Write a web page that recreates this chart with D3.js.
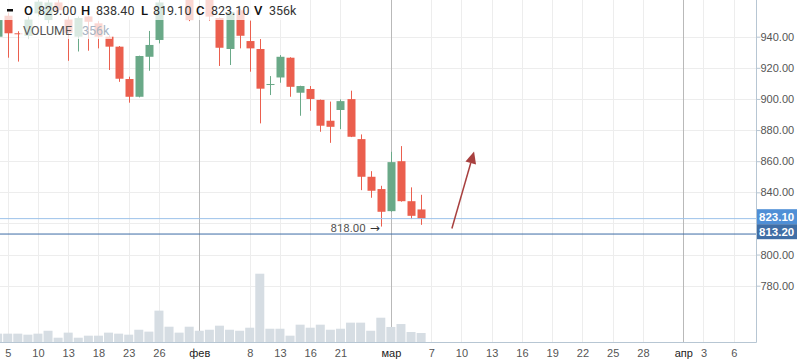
<!DOCTYPE html>
<html>
<head>
<meta charset="utf-8">
<script src="https://cdnjs.cloudflare.com/ajax/libs/d3/7.8.5/d3.min.js"></script>
<style>
  body { margin: 0; background: #fff; }
  svg { display: block; }
</style>
</head>
<body>
<svg id="chart"></svg>
<script>
const width = 798;
const height = 363;
const paneRight = 756;
const paneBottom = 342;

// bar slots (trading days), slot 0 = "5"
const slots = d3.range(-1, 42);
const opens  = [940, 953.5, 942.2, 940.5, 955, 950.7, 962, 951, 940, 953, 948.6, 940, 933.6, 912.8, 901.4, 927.1, 937.9, 966, 972, 968, 966, 965, 952, 932.1, 957, 937.2, 932.1, 909.2, 913.8, 926.5, 904, 906.4, 899.4, 886, 892.9, 899.9, 874.2, 850, 842.1, 827.9, 860, 834.3, 829];
const highs  = [955, 955.5, 943.5, 953, 964, 964, 964, 953, 953, 954, 950, 941, 934, 914.3, 927.8, 943.7, 966, 975, 978, 970, 972, 967, 952.5, 956.5, 958, 950.3, 938.5, 914.7, 928.2, 926.8, 908.5, 908.3, 899.6, 898.3, 899.7, 905.3, 877.2, 853.6, 844.2, 866, 869.7, 843.2, 838.4];
const lows   = [938, 926.5, 924, 938.5, 953, 948.6, 955.5, 924.5, 930.5, 931, 932.5, 918.6, 911, 897.6, 901, 918.1, 935.7, 964, 965, 950, 964, 950.3, 921.2, 921.8, 932.5, 917.5, 884.3, 902.5, 910.4, 901.4, 889.2, 892.4, 878.9, 871.8, 880.6, 875.5, 841.4, 836.5, 818, 827.5, 834, 822.8, 819.1];
const closes = [950.7, 942.2, 941.8, 951, 962.5, 962, 957, 942.5, 952, 949.6, 940, 933.6, 913, 901.4, 927.6, 934.7, 962, 972, 968, 950.7, 969, 952.9, 932.9, 955.9, 940.6, 932.5, 906.6, 909.6, 927.1, 907.8, 908.3, 900, 882.8, 882.1, 898.6, 875.7, 850, 841, 827.5, 859.4, 834.3, 824.9, 823.1];
const volumes = [330, 330, 330, 290, 330, 445, 170, 370, 170, 250, 250, 370, 330, 290, 485, 410, 1240, 605, 370, 605, 445, 485, 645, 485, 445, 565, 2700, 525, 525, 250, 685, 565, 685, 485, 525, 765, 765, 445, 960, 595, 710, 395, 356];

// time axis labels (past slots are bars, future slots are calendar days)
const tickSlots  = [0, 3, 6, 9, 12, 15, 19, 24, 27, 30, 33, 38, 42, 45, 48, 51, 54, 57, 60, 63, 67, 69, 72];
const tickLabels = ["5", "10", "13", "18", "23", "26", "фев", "8", "13", "16", "21", "мар", "7", "10", "13", "16", "19", "22", "25", "28", "апр", "3", "6"];
const monthLabels = ["фев", "мар", "апр"];

const priceTicks = [780, 800, 820, 840, 860, 880, 900, 920, 940];
const hiddenPriceTicks = [820];

const lastPrice = 823.10;
const otherPrice = 813.20;
const lowMark = { slot: 37, price: 818.00 };
const arrowLine = [{ slot: 44.05, price: 816.8 }, { slot: 46.25, price: 866.3 }];

const legendValues = { O: "829.00", H: "838.40", L: "819.10", C: "823.10", V: "356k" };

const upColor = '#6aa988';
const downColor = '#eb5f4e';

const svg = d3.select('#chart').attr('width', width).attr('height', height)
  .style('font-family', 'Roboto, "Liberation Sans", Arial, sans-serif');

const x = d3.scaleLinear().domain([0, 67]).range([7.7, 683.3]);
const y = d3.scaleLinear().domain([780, 940]).range([285.7, 36.7]);
const yVol = d3.scaleLinear().domain([0, d3.max(volumes)]).range([paneBottom, paneBottom - 68.3]);

svg.append('defs').append('clipPath').attr('id', 'pane')
  .append('rect').attr('x', 0).attr('y', 0).attr('width', paneRight).attr('height', paneBottom);

const pane = svg.append('g').attr('clip-path', 'url(#pane)');

// grid
pane.selectAll('.hgrid').data(priceTicks).enter().append('line')
  .attr('x1', 0).attr('x2', paneRight)
  .attr('y1', d => Math.round(y(d)) + 0.5).attr('y2', d => Math.round(y(d)) + 0.5)
  .attr('stroke', '#ededed');

pane.selectAll('.vgrid').data(tickSlots).enter().append('line')
  .attr('x1', d => Math.round(x(d)) + 0.5).attr('x2', d => Math.round(x(d)) + 0.5)
  .attr('y1', 0).attr('y2', paneBottom)
  .attr('stroke', (d, i) => monthLabels.includes(tickLabels[i]) ? '#b9b9b9' : '#ededed');

// volume
pane.selectAll('.vol').data(slots).enter().append('rect')
  .attr('x', d => x(d) - 4.5)
  .attr('width', 9)
  .attr('y', (d, i) => yVol(volumes[i]))
  .attr('height', (d, i) => paneBottom - yVol(volumes[i]))
  .attr('fill', '#d6dde3');

// candles
const candle = pane.selectAll('.candle').data(slots).enter().append('g');
candle.append('line')
  .attr('x1', d => Math.round(x(d)) + 0.5).attr('x2', d => Math.round(x(d)) + 0.5)
  .attr('y1', (d, i) => y(highs[i])).attr('y2', (d, i) => y(lows[i]))
  .attr('stroke', (d, i) => closes[i] >= opens[i] ? upColor : downColor);
candle.append('rect')
  .attr('x', d => Math.round(x(d)) - 3.5)
  .attr('width', 8)
  .attr('y', (d, i) => y(Math.max(opens[i], closes[i])))
  .attr('height', (d, i) => Math.max(1, Math.abs(y(opens[i]) - y(closes[i]))))
  .attr('fill', (d, i) => closes[i] >= opens[i] ? upColor : downColor);

// price lines
pane.append('line').attr('x1', 0).attr('x2', paneRight)
  .attr('y1', y(lastPrice)).attr('y2', y(lastPrice))
  .attr('stroke', '#9cc2ea');
pane.append('line').attr('x1', 0).attr('x2', paneRight)
  .attr('y1', y(otherPrice)).attr('y2', y(otherPrice))
  .attr('stroke', '#3c6ba5');

// low mark
pane.append('text')
  .attr('x', x(lowMark.slot) - 15).attr('y', y(lowMark.price) + 5)
  .attr('text-anchor', 'end').attr('font-size', 11.5).attr('fill', '#555')
  .text(lowMark.price.toFixed(2));
pane.append('text')
  .attr('x', x(lowMark.slot) - 1).attr('y', y(lowMark.price) + 5)
  .attr('text-anchor', 'end').attr('font-size', 12).attr('fill', '#333')
  .attr('font-family', '"DejaVu Sans", sans-serif')
  .text('\u2192');

// arrow drawing
const ax1 = x(arrowLine[0].slot), ay1 = y(arrowLine[0].price);
const ax2 = x(arrowLine[1].slot), ay2 = y(arrowLine[1].price);
const ang = Math.atan2(ay2 - ay1, ax2 - ax1);
const headLen = 12, headW = 5.5;
const bx = ax2 - headLen * Math.cos(ang), by = ay2 - headLen * Math.sin(ang);
pane.append('line').attr('x1', ax1).attr('y1', ay1).attr('x2', bx).attr('y2', by)
  .attr('stroke', '#a8403f').attr('stroke-width', 1.5);
pane.append('path')
  .attr('d', `M${ax2},${ay2} L${bx - headW * Math.sin(ang)},${by + headW * Math.cos(ang)} L${bx + headW * Math.sin(ang)},${by - headW * Math.cos(ang)} Z`)
  .attr('fill', '#a8403f');

// axes borders
svg.append('line').attr('x1', paneRight + 0.5).attr('x2', paneRight + 0.5).attr('y1', 0).attr('y2', paneBottom + 0.5)
  .attr('stroke', '#b7c6d3');
svg.append('line').attr('x1', 0).attr('x2', paneRight + 0.5).attr('y1', paneBottom + 0.5).attr('y2', paneBottom + 0.5)
  .attr('stroke', '#b7c6d3');

// right price axis
const yAxis = svg.append('g').attr('transform', `translate(${paneRight + 0.5},0)`)
  .call(d3.axisRight(y).tickValues(priceTicks).tickSize(4).tickFormat(d => hiddenPriceTicks.includes(d) ? '' : d3.format('.2f')(d)));
yAxis.select('.domain').remove();
yAxis.selectAll('line').attr('stroke', '#b7c6d3');
yAxis.selectAll('text').attr('font-size', 11).attr('fill', '#555').attr('x', 4)
  .attr('font-family', '"Liberation Sans", Arial, sans-serif');

// price labels
const labels = [
  { price: lastPrice, color: '#4f8fd6', yc: 216.7 },
  { price: otherPrice, color: '#3f6ea6', yc: 231.7 }
];
labels.forEach(l => {
  svg.append('rect').attr('x', paneRight + 1).attr('y', l.yc - 7.5).attr('width', 40).attr('height', 15)
    .attr('fill', l.color);
  svg.append('text').attr('x', paneRight + 3).attr('y', l.yc + 4.3)
    .attr('font-size', 11.5).attr('font-weight', 'bold').attr('fill', '#fff')
    .attr('font-family', '"Liberation Sans", Arial, sans-serif')
    .text(l.price.toFixed(2));
});

// time axis
const xAxis = svg.append('g').attr('transform', `translate(0,${paneBottom})`)
  .call(d3.axisBottom(x).tickValues(tickSlots).tickSize(0).tickFormat((d, i) => tickLabels[i]));
xAxis.select('.domain').remove();
xAxis.selectAll('text').attr('font-size', 11).attr('dy', 0).attr('y', 15)
  .attr('font-family', '"Liberation Sans", Arial, sans-serif')
  .attr('fill', (d, i) => monthLabels.includes(tickLabels[i]) ? '#222' : '#555');

// legend
const legend = svg.append('g');
legend.append('rect').attr('x', 0).attr('y', 0).attr('width', 302).attr('height', 20)
  .attr('fill', '#fff').attr('opacity', 0.75);
legend.append('rect').attr('x', 20).attr('y', 20).attr('width', 92).attr('height', 19)
  .attr('fill', '#fff').attr('opacity', 0.75);
legend.append('rect').attr('x', 7).attr('y', 9).attr('width', 6).attr('height', 2.5).attr('fill', '#111');

const legendItems = [
  { k: 'O', kx: 24, vx: 38 },
  { k: 'H', kx: 81, vx: 96 },
  { k: 'L', kx: 141, vx: 153 },
  { k: 'C', kx: 196, vx: 211 },
  { k: 'V', kx: 254, vx: 269 }
];
legendItems.forEach(it => {
  legend.append('text').attr('x', it.kx).attr('y', 15).attr('font-size', 13).attr('font-weight', 500)
    .attr('fill', '#111').text(it.k);
  legend.append('text').attr('x', it.vx).attr('y', 15).attr('font-size', 12.5)
    .attr('fill', '#333').text(legendValues[it.k]);
});
legend.append('text').attr('x', 23).attr('y', 35).attr('font-size', 12.5).attr('fill', '#555').text('VOLUME');
legend.append('text').attr('x', 82).attr('y', 35).attr('font-size', 12.5).attr('fill', '#a7b4c3').text(legendValues.V);
</script>
</body>
</html>
